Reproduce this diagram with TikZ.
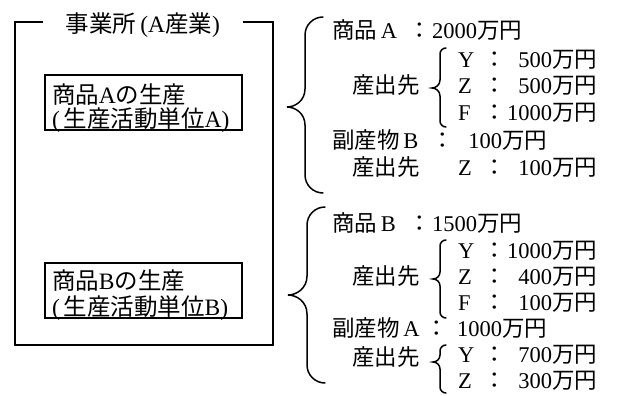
\documentclass[tikz,border=0pt]{standalone}
\usepackage{fontspec}
\setmainfont{Liberation Serif}
\newfontfamily\jp{Noto Sans CJK JP}
\newcommand\mybrace[6]{% #1 right x, #2 stem x, #3 tip x, #4 top y, #5 tip y, #6 bottom y
  \draw[br] (#1,#4) .. controls ({#2+0.45*(#1-#2)},#4) and (#2,{#4+0.45*(#1-#2)}) .. (#2,{#4+#1-#2})
    -- (#2,{#5-(#2-#3)}) .. controls (#2,{#5-0.35*(#2-#3)}) and ({#3+0.45*(#2-#3)},#5) .. (#3,#5)
    .. controls ({#3+0.45*(#2-#3)},#5) and (#2,{#5+0.35*(#2-#3)}) .. (#2,{#5+(#2-#3)})
    -- (#2,{#6-(#1-#2)}) .. controls (#2,{#6-0.45*(#1-#2)}) and ({#2+0.45*(#1-#2)},#6) .. (#1,#6);}
\begin{document}
\begin{tikzpicture}[x=1pt,y=-1pt,
  every node/.style={inner sep=0pt, outer sep=0pt, font=\fontsize{22.5}{27}\selectfont},
  big/.style={font=\fontsize{23.5}{28}\selectfont},
  ln/.style={line width=1.6pt},
  br/.style={line width=1.5pt, line cap=round},
  bx/.style={draw, line width=1.6pt, minimum width=197pt, minimum height=55pt, anchor=north west}]
\useasboundingbox (0,0) rectangle (619,396);
% outer office box
\node[big, anchor=base] (title) at (143,33) {{\jp 事業所}\,(A{\jp 産業})};
\coordinate (tl) at (43,22);
\coordinate (tr) at (243,22);
\draw[ln] (tl) -| (15,345) -| (273,22) -- (tr);
% production boxes
\node[bx] (boxA) at (45,75) {};
\node[big, anchor=base west] (a1) at (52,103) {{\jp 商品}A{\jp の生産}};
\node[big, anchor=base west] (a2) at (52,128) {(\,{\jp 生産活動単位}A)};
\node[bx] (boxB) at (45,263) {};
\node[big, anchor=base west] (b1) at (52,289) {{\jp 商品}B{\jp の生産}};
\node[big, anchor=base west] (b2) at (52,315) {(\,{\jp 生産活動単位}B)};
% big braces
\mybrace{323}{305}{287}{17}{107}{193}
\mybrace{325}{307}{288}{207}{295}{383}
% upper group
\node[anchor=base west] (pA) at (332,39) {{\jp 商品}\,A};
\node[anchor=base] (pAc) at (420,39) {\jp ：};
\node[anchor=base east] (pAv) at (522,39) {2000{\jp 万円}};
\node[anchor=base west] (s1) at (352,94) {\jp 産出先};
\mybrace{446}{440}{432}{48}{88}{127}
\node[anchor=base west] (y1) at (458,67) {Y};
\node[anchor=base] (y1c) at (495,67) {\jp ：};
\node[anchor=base east] (y1v) at (597,67) {500{\jp 万円}};
\node[anchor=base west] (z1) at (458,94) {Z};
\node[anchor=base] (z1c) at (495,94) {\jp ：};
\node[anchor=base east] (z1v) at (597,94) {500{\jp 万円}};
\node[anchor=base west] (f1) at (458,121) {F};
\node[anchor=base] (f1c) at (495,121) {\jp ：};
\node[anchor=base east] (f1v) at (597,121) {1000{\jp 万円}};
\node[anchor=base west] (bB) at (332,148) {{\jp 副産物}\,B};
\node[anchor=base] (bBc) at (443,148) {\jp ：};
\node[anchor=base east] (bBv) at (547,148) {100{\jp 万円}};
\node[anchor=base west] (s2) at (352,175) {\jp 産出先};
\node[anchor=base west] (z2) at (458,175) {Z};
\node[anchor=base] (z2c) at (495,175) {\jp ：};
\node[anchor=base east] (z2v) at (597,175) {100{\jp 万円}};
% lower group
\node[anchor=base west] (pB) at (332,231) {{\jp 商品}\,B};
\node[anchor=base] (pBc) at (420,231) {\jp ：};
\node[anchor=base east] (pBv) at (522,231) {1500{\jp 万円}};
\node[anchor=base west] (s3) at (352,284) {\jp 産出先};
\mybrace{446}{440}{433}{240}{279}{318}
\node[anchor=base west] (y3) at (458,258) {Y};
\node[anchor=base] (y3c) at (495,258) {\jp ：};
\node[anchor=base east] (y3v) at (597,258) {1000{\jp 万円}};
\node[anchor=base west] (z3) at (458,284) {Z};
\node[anchor=base] (z3c) at (495,284) {\jp ：};
\node[anchor=base east] (z3v) at (597,284) {400{\jp 万円}};
\node[anchor=base west] (f3) at (458,310) {F};
\node[anchor=base] (f3c) at (495,310) {\jp ：};
\node[anchor=base east] (f3v) at (597,310) {100{\jp 万円}};
\node[anchor=base west] (bA) at (332,336) {{\jp 副産物}\,A};
\node[anchor=base] (bAc) at (437,336) {\jp ：};
\node[anchor=base east] (bAv) at (547,336) {1000{\jp 万円}};
\node[anchor=base west] (s4) at (352,365) {\jp 産出先};
\mybrace{446}{440}{433}{345}{362}{393}
\node[anchor=base west] (y4) at (458,362) {Y};
\node[anchor=base] (y4c) at (495,362) {\jp ：};
\node[anchor=base east] (y4v) at (597,362) {700{\jp 万円}};
\node[anchor=base west] (z4) at (458,388) {Z};
\node[anchor=base] (z4c) at (495,388) {\jp ：};
\node[anchor=base east] (z4v) at (597,388) {300{\jp 万円}};
\end{tikzpicture}
\end{document}
